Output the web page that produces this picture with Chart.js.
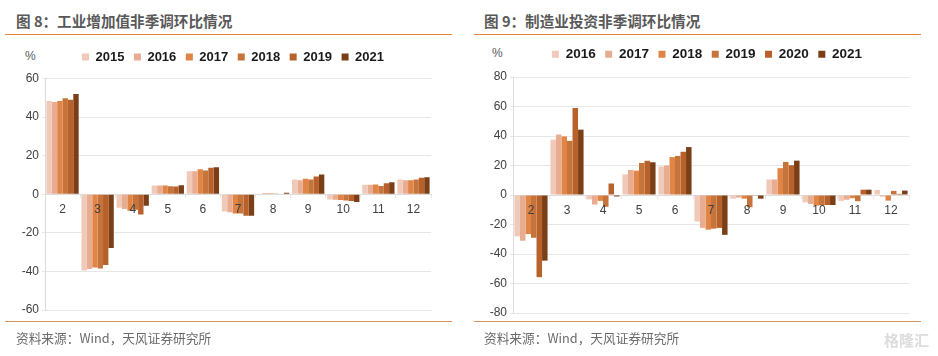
<!DOCTYPE html>
<html>
<head>
<meta charset="utf-8">
<script src="https://cdn.jsdelivr.net/npm/chart.js@4"></script>
<style>
    html, body { margin: 0; padding: 0; background: #fff; }
    #page { position: relative; width: 938px; height: 356px; overflow: hidden; font-family: "Liberation Sans", sans-serif; }
    #page div { position: absolute; white-space: nowrap; }
    #page canvas { position: absolute; }
    .title { top: 11px; font: bold 14.6px "Noto Sans CJK SC", sans-serif; color: #595959; line-height: 20px; }
    .rule { height: 1px; background: #e8873a; top: 34px; }
    .rule2 { height: 1px; background: #d9935c; top: 321px; }
    .src { top: 329px; font: 12.7px "Noto Sans CJK SC", sans-serif; color: #6b6b6b; line-height: 18px; }
    .unit { font-size: 12px; color: #595959; }
</style>
</head>
<body>
<div id="page">
    <div class="title" style="left:16px;">图 8：工业增加值非季调环比情况</div>
    <div class="rule" style="left:5px;width:447px;"></div>
    <div class="unit" style="left:25px;top:49px;">%</div>
    <canvas id="c8" width="466" height="290" style="left:0;top:41px;"></canvas>
    <div class="rule2" style="left:5px;width:447px;"></div>
    <div class="src" style="left:16px;">资料来源：Wind，天风证券研究所</div>

    <div class="title" style="left:484px;">图 9：制造业投资非季调环比情况</div>
    <div class="rule" style="left:474px;width:447px;"></div>
    <div class="unit" style="left:492px;top:46px;">%</div>
    <canvas id="c9" width="462" height="290" style="left:476px;top:38px;"></canvas>
    <div class="rule2" style="left:474px;width:447px;"></div>
    <div class="src" style="left:484px;">资料来源：Wind，天风证券研究所</div>
    <div style="left:884px;top:329px;font:bold 15px 'Noto Sans CJK SC',sans-serif;color:#dcdcdc;">格隆汇</div>
</div>
<script>
const months = ['2', '3', '4', '5', '6', '7', '8', '9', '10', '11', '12'];
const shades = ['#f0c9b8', '#e8ad90', '#e08545', '#c5743b', '#b9612b', '#7b3f18'];

// 图 8 工业增加值
const ipYears = ['2015', '2016', '2017', '2018', '2019', '2021'];
const ip2015 = [48.3, -39.5, -7, 4.6, 11.9, -9, 0.3, 7.6, -2.7, 4.9, 7.6];
const ip2016 = [47.8, -38.7, -7.6, 4.6, 11.9, -9.3, 0.7, 7.3, -2.8, 4.9, 7.2];
const ip2017 = [48.3, -38, -8.5, 4.6, 13, -10, 0.5, 8, -3, 5, 7.3];
const ip2018 = [49.7, -38.5, -8, 4.2, 12.3, -10, 0.4, 7.6, -3.3, 4.3, 7.7];
const ip2019 = [49, -36.7, -10.5, 4, 13.7, -11.2, 0, 9.2, -3.5, 5.7, 8.5];
const ip2021 = [52, -27.8, -6, 4.7, 14, -11.2, 0.8, 10.3, -4, 6.2, 8.8];

// 图 9 制造业投资
const invYears = ['2016', '2017', '2018', '2019', '2020', '2021'];
const inv2016 = [-28, 37.5, -3, 14, 19.3, -18, -2.5, 10.5, -5, -4, 3.4];
const inv2017 = [-31, 41, -6.5, 17, 20, -22.3, -1.7, 10.5, -6, -3.2, -1];
const inv2018 = [-26.5, 39.7, -4, 16.5, 25.7, -23.5, -2.5, 18.2, -7.2, -2.2, -3.8];
const inv2019 = [-29, 36.7, -8, 21.7, 26.5, -22.8, -8.3, 22.4, -7, -4.2, 2.8];
const inv2020 = [-55.7, 59, 7.8, 23.2, 29.3, -22.3, -0.2, 20.2, -6.8, 3.6, 0.8];
const inv2021 = [-44.5, 44.3, -1, 22.2, 32.5, -27, -2.5, 23.3, -6.8, 3.6, 3];

const GRID = '#e6e6e6';

// o: axisW / pad* fix the plot box, legendGap and legendShift place the legend
function barChart(id, years, rows, yMax, o) {
    return new Chart(document.getElementById(id), {
        type: 'bar',
        data: {
            labels: months,
            datasets: rows.map((r, i) => ({
                label: years[i], data: r, backgroundColor: shades[i],
                categoryPercentage: 0.92, barPercentage: 1, borderWidth: 0,
            })),
        },
        plugins: [{
            id: 'legendPlace',
            beforeInit(chart) {
                const fit = chart.legend.fit;
                chart.legend.fit = function () { fit.call(this); this.height += o.legendGap; };
            },
            afterLayout(chart) {
                chart.legend.left += o.legendShift;
                chart.legend.right += o.legendShift;
            },
        }],
        options: {
            responsive: false,
            animation: false,
            layout: { padding: { left: 0, right: o.padRight, top: 0, bottom: o.padBottom } },
            plugins: {
                tooltip: { enabled: false },
                legend: {
                    position: 'top',
                    labels: { boxWidth: 7, boxHeight: 7, padding: 9.5, color: '#1a1a1a', font: { family: 'Liberation Sans', size: o.legendSize, weight: 'bold' } },
                },
            },
            scales: {
                x: {
                    position: { y: 0 },
                    grid: { drawOnChartArea: false, drawTicks: true, tickLength: 3, color: GRID, offset: true },
                    border: { color: '#dcdcdc' },
                    ticks: { z: 1, color: '#404040', padding: 5, maxRotation: 0, autoSkip: false, font: { family: 'Liberation Sans', size: 12 } },
                },
                y: {
                    min: -yMax, max: yMax,
                    afterFit: (s) => { s.width = o.axisW; },
                    grid: { color: GRID, tickLength: 3 },
                    border: { color: '#dcdcdc' },
                    ticks: { stepSize: 20, color: '#404040', padding: 3, font: { family: 'Liberation Sans', size: 12 } },
                },
            },
        },
    });
}

barChart('c8', ipYears, [ip2015, ip2016, ip2017, ip2018, ip2019, ip2021], 60,
    { axisW: 45, padRight: 35, padBottom: 21, legendGap: 5, legendShift: 17.5, legendSize: 13 });
barChart('c9', invYears, [inv2016, inv2017, inv2018, inv2019, inv2020, inv2021], 80,
    { axisW: 37, padRight: 29, padBottom: 15, legendGap: 6, legendShift: 14.5, legendSize: 13.5 });
</script>
</body>
</html>
